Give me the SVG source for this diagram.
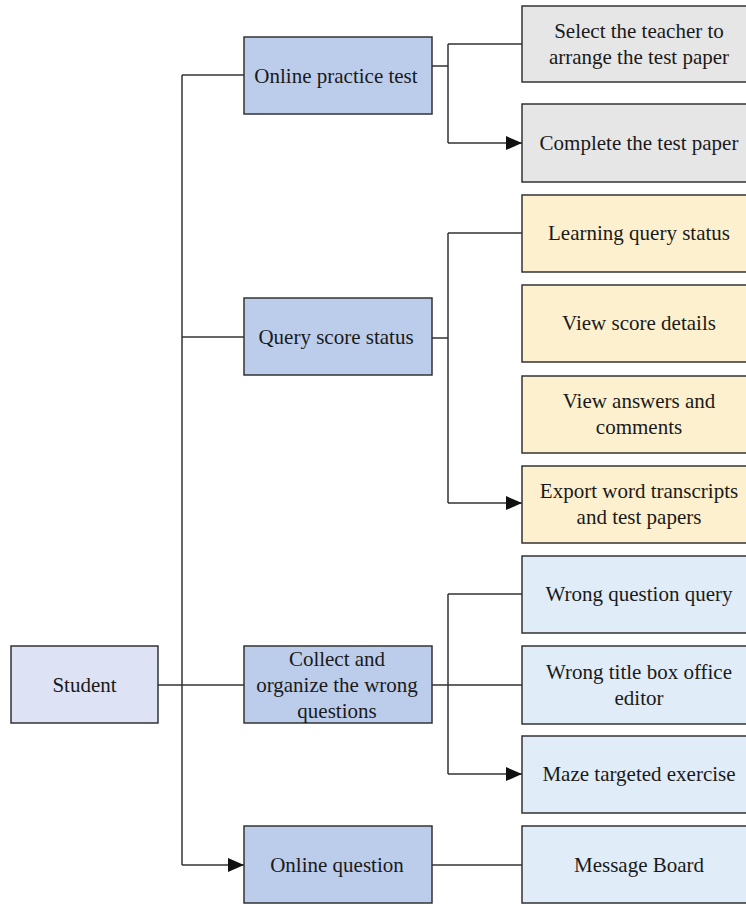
<svg xmlns="http://www.w3.org/2000/svg" width="746" height="904" viewBox="0 0 746 904">
<defs>
<style>
.box{stroke:#333;stroke-width:1.5}
.main{fill:#BCCDEB}
.root{fill:#DDE3F5}
.gray{fill:#E6E6E6}
.yel{fill:#FDF0CE}
.blu{fill:#E0ECF7}
text{font-family:"Liberation Serif","Times New Roman",serif;font-size:21px;fill:#1a1a1a;text-anchor:middle}
.ln{fill:none;stroke:#333;stroke-width:1.5}
</style>
<marker id="arr" viewBox="0 0 16 14" refX="16" refY="7" markerWidth="16" markerHeight="14" markerUnits="userSpaceOnUse" orient="auto">
<path d="M0,0 L16,7 L0,14 Z" fill="#111"/>
</marker>
</defs>
<rect width="746" height="904" fill="#fff"/>
<g id="connectors">
<path class="ln" d="M182,75 V865"/>
<path class="ln" d="M182,75 H244"/>
<path class="ln" d="M182,337 H244"/>
<path class="ln" d="M158,685 H244"/>
<path class="ln" d="M182,865 H244" marker-end="url(#arr)"/>
<path class="ln" d="M432,66 H448 M448,44 V143 M448,44 H522"/>
<path class="ln" d="M448,143 H522" marker-end="url(#arr)"/>
<path class="ln" d="M432,338 H448 M448,233 V503 M448,233 H522"/>
<path class="ln" d="M448,503 H522" marker-end="url(#arr)"/>
<path class="ln" d="M432,685 H522 M448,594 V774 M448,594 H522"/>
<path class="ln" d="M448,774 H522" marker-end="url(#arr)"/>
<path class="ln" d="M432,865 H522"/>
</g>
<g id="student"><rect class="box root" x="11" y="646" width="147" height="77"/><text x="84.5" y="692">Student</text></g>
<g id="online-practice-test"><rect class="box main" x="244" y="37" width="188" height="77"/><text x="336" y="83">Online practice test</text></g>
<g id="query-score-status"><rect class="box main" x="244" y="298" width="188" height="77"/><text x="336" y="344">Query score status</text></g>
<g id="collect-wrong"><rect class="box main" x="244" y="646" width="188" height="77"/><text x="337" y="666">Collect and</text><text x="337" y="692">organize the wrong</text><text x="337" y="718">questions</text></g>
<g id="online-question"><rect class="box main" x="244" y="826" width="188" height="77"/><text x="337" y="872">Online question</text></g>
<g id="select-teacher"><rect class="box gray" x="522" y="6" width="240" height="76"/><text x="639" y="38">Select the teacher to</text><text x="639" y="64">arrange the test paper</text></g>
<g id="complete-test"><rect class="box gray" x="522" y="104" width="240" height="78"/><text x="639" y="150">Complete the test paper</text></g>
<g id="learning-query"><rect class="box yel" x="522" y="195" width="240" height="77"/><text x="639" y="240">Learning query status</text></g>
<g id="view-score"><rect class="box yel" x="522" y="285" width="240" height="77"/><text x="639" y="330">View score details</text></g>
<g id="view-answers"><rect class="box yel" x="522" y="376" width="240" height="77"/><text x="639" y="408">View answers and</text><text x="639" y="434">comments</text></g>
<g id="export-word"><rect class="box yel" x="522" y="466" width="240" height="77"/><text x="639" y="498">Export word transcripts</text><text x="639" y="524">and test papers</text></g>
<g id="wrong-query"><rect class="box blu" x="522" y="556" width="240" height="77"/><text x="639" y="601">Wrong question query</text></g>
<g id="wrong-title"><rect class="box blu" x="522" y="646" width="240" height="78"/><text x="639" y="679">Wrong title box office</text><text x="639" y="705">editor</text></g>
<g id="maze-exercise"><rect class="box blu" x="522" y="736" width="240" height="77"/><text x="639" y="781">Maze targeted exercise</text></g>
<g id="message-board"><rect class="box blu" x="522" y="826" width="240" height="77"/><text x="639" y="872">Message Board</text></g>
</svg>
